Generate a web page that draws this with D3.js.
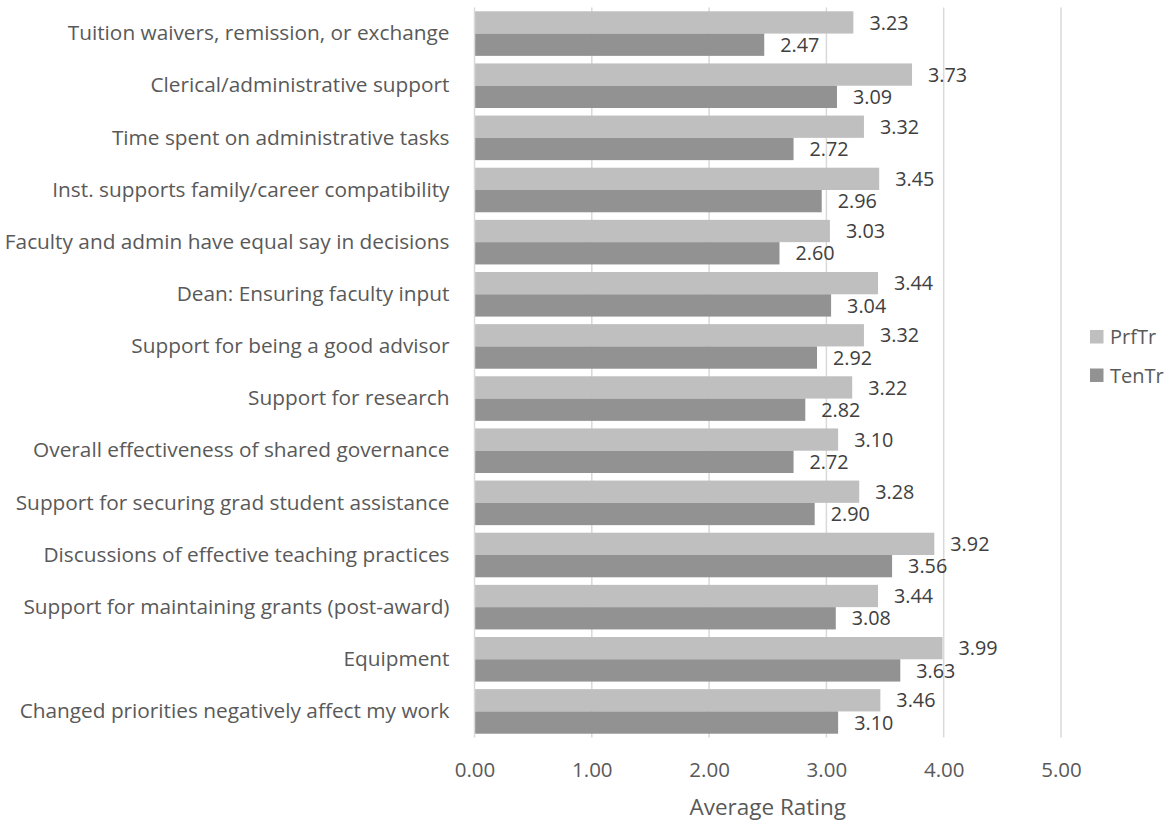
<!DOCTYPE html>
<html>
<head>
<meta charset="utf-8">
<script src="https://cdn.jsdelivr.net/npm/d3@7"></script>
<style>
  html, body { margin: 0; padding: 0; background: #ffffff; }
  svg { display: block; font-family: "Open Sans", Lato, sans-serif; }
</style>
</head>
<body>
<svg id="chart" width="1172" height="823"></svg>
<script>
// Survey items, top to bottom
const categories = [
  "Tuition waivers, remission, or exchange",
  "Clerical/administrative support",
  "Time spent on administrative tasks",
  "Inst. supports family/career compatibility",
  "Faculty and admin have equal say in decisions",
  "Dean: Ensuring faculty input",
  "Support for being a good advisor",
  "Support for research",
  "Overall effectiveness of shared governance",
  "Support for securing grad student assistance",
  "Discussions of effective teaching practices",
  "Support for maintaining grants (post-award)",
  "Equipment",
  "Changed priorities negatively affect my work"
];

const seriesNames = ["PrfTr", "TenTr"];
const prfTr = [3.23, 3.73, 3.32, 3.45, 3.03, 3.44, 3.32, 3.22, 3.10, 3.28, 3.92, 3.44, 3.99, 3.46];
const tenTr = [2.47, 3.09, 2.72, 2.96, 2.60, 3.04, 2.92, 2.82, 2.72, 2.90, 3.56, 3.08, 3.63, 3.10];
const xTicks = [0, 1, 2, 3, 4, 5];
const axisTitle = "Average Rating";

const colors = { PrfTr: "#bfbfbf", TenTr: "#929292" };
const textGrey = "#595959";

const svg = d3.select("#chart");
const plot = { left: 474.5, right: 1061, top: 7.5, bottom: 737.5 };

const x = d3.scaleLinear().domain([0, 5]).range([plot.left, plot.right]);
const y = d3.scaleBand().domain(categories).range([plot.top, plot.bottom])
  .paddingInner(0.145).paddingOuter(0.0725);
const ySub = d3.scaleBand().domain(seriesNames).range([0, y.bandwidth()]);

// vertical gridlines
svg.append("g")
  .selectAll("line")
  .data(xTicks.slice(1))
  .join("line")
  .attr("x1", d => x(d)).attr("x2", d => x(d))
  .attr("y1", plot.top).attr("y2", plot.bottom)
  .attr("stroke", "#d9d9d9").attr("stroke-width", 1.5);

// bars
const rows = categories.map((c, i) => ({ cat: c, vals: [
  { key: "PrfTr", v: prfTr[i] }, { key: "TenTr", v: tenTr[i] }
]}));

const groups = svg.append("g").selectAll("g")
  .data(rows).join("g")
  .attr("transform", d => `translate(0,${y(d.cat)})`);

groups.selectAll("rect")
  .data(d => d.vals).join("rect")
  .attr("x", x(0))
  .attr("y", d => ySub(d.key))
  .attr("width", d => x(d.v) - x(0))
  .attr("height", ySub.bandwidth())
  .attr("fill", d => colors[d.key]);

// value labels to the right of each bar
groups.selectAll("text")
  .data(d => d.vals).join("text")
  .attr("x", d => x(d.v) + 16)
  .attr("y", d => ySub(d.key) + ySub.bandwidth() / 2)
  .attr("dy", "0.36em")
  .attr("font-size", 19.8)
  .attr("fill", "#404040")
  .text(d => d.v.toFixed(2));

// category axis line
svg.append("line")
  .attr("x1", x(0)).attr("x2", x(0))
  .attr("y1", plot.top).attr("y2", plot.bottom)
  .attr("stroke", "#d9d9d9").attr("stroke-width", 1.5);

// category labels
const yAxis = d3.axisLeft(y).tickSize(0).tickPadding(25);
const yg = svg.append("g").attr("transform", `translate(${x(0)},0)`).call(yAxis);
yg.select(".domain").remove();
yg.selectAll("text")
  .attr("font-size", 20.8)
  .attr("font-family", "'Open Sans', Lato, sans-serif")
  .attr("fill", textGrey);

// value axis labels
const xAxis = d3.axisBottom(x).tickValues(xTicks).tickSize(0).tickPadding(0)
  .tickFormat(d3.format(".2f"));
const xg = svg.append("g").attr("transform", `translate(0,${plot.bottom})`).call(xAxis);
xg.select(".domain").remove();
xg.selectAll("text")
  .attr("y", 39.5)
  .attr("dy", 0)
  .attr("font-size", 20.5)
  .attr("font-family", "'Open Sans', Lato, sans-serif")
  .attr("fill", textGrey);

// axis title
svg.append("text")
  .attr("x", (plot.left + plot.right) / 2)
  .attr("y", 815)
  .attr("text-anchor", "middle")
  .attr("font-size", 22.5)
  .attr("fill", textGrey)
  .text(axisTitle);

// legend
const legend = svg.append("g").selectAll("g")
  .data(seriesNames).join("g")
  .attr("transform", (d, i) => `translate(1090,${330 + i * 38.5})`);
legend.append("rect")
  .attr("width", 13.5).attr("height", 13.5)
  .attr("fill", d => colors[d]);
legend.append("text")
  .attr("x", 20).attr("y", 7)
  .attr("dy", "0.36em")
  .attr("font-size", 20)
  .attr("fill", textGrey)
  .text(d => d);
</script>
</body>
</html>
